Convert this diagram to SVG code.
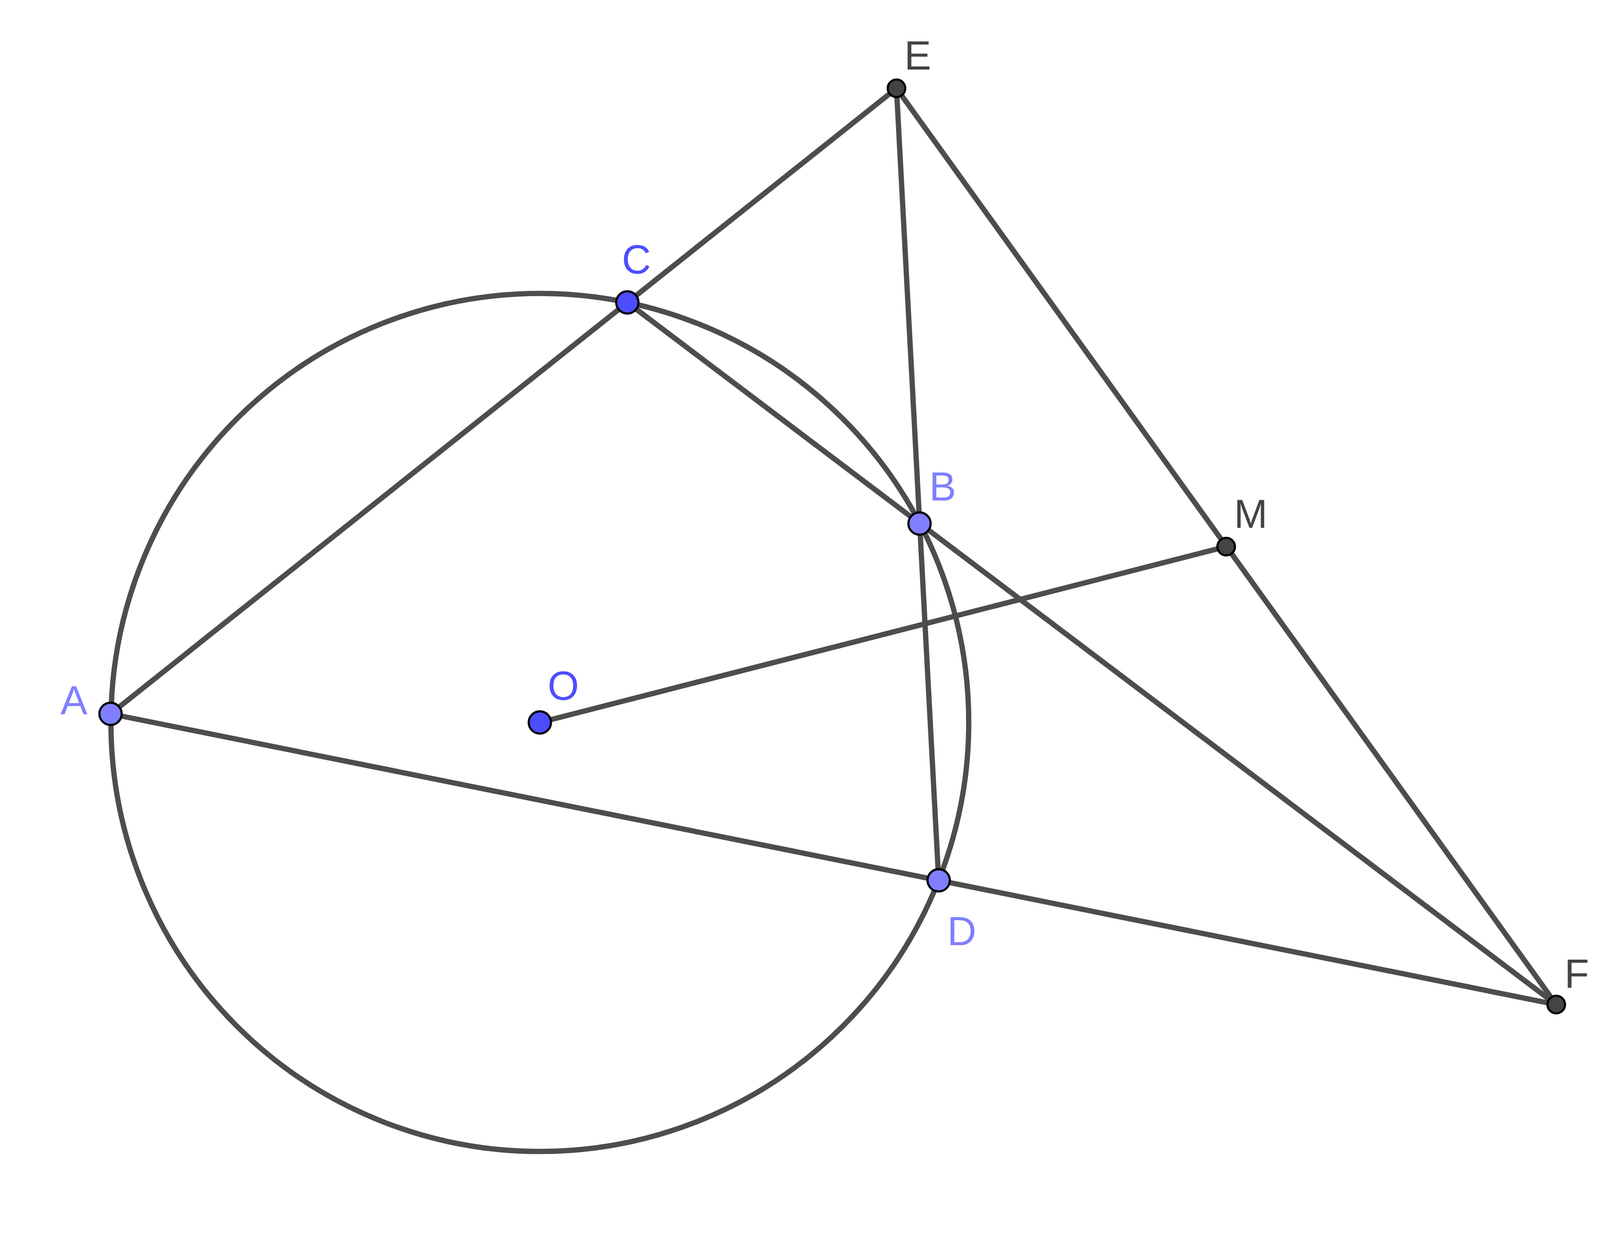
<svg xmlns="http://www.w3.org/2000/svg" width="4217" height="3171" viewBox="0 0 4217 3171">
<style>
.ln{stroke:#4d4d4d;stroke-width:13.5;fill:none;stroke-linecap:round}
.pt{stroke:#000;stroke-width:5.5}
.big{}
.lb{font-family:"Liberation Sans",Arial,sans-serif;font-size:103px}
.dk{fill:#444444}
.bl{fill:#4d4dff}
.lt{fill:#7f7fff}
</style>
<rect width="4217" height="3171" fill="#fff"/>
<g id="connectors">
<circle class="ln" cx="1382" cy="1849" r="1098"/>
<line class="ln" x1="283" y1="1827" x2="2295" y2="226"/>
<line class="ln" x1="2295" y1="226" x2="2403" y2="2253"/>
<line class="ln" x1="2295" y1="226" x2="3984" y2="2571"/>
<line class="ln" x1="1606" y1="774" x2="3984" y2="2571"/>
<line class="ln" x1="283" y1="1827" x2="3984" y2="2571"/>
<line class="ln" x1="1382" y1="1849" x2="3139" y2="1399"/>
</g>
<g id="node-E"><circle class="pt" cx="2295" cy="226" r="22.5" fill="#444444"/><text class="lb dk" x="2315" y="178">E</text></g>
<g id="node-C"><circle class="pt" cx="1606" cy="774" r="28.5" fill="#4d4dff"/><text class="lb bl" x="1592" y="700">C</text></g>
<g id="node-B"><circle class="pt" cx="2354" cy="1340" r="28.5" fill="#7f7fff"/><text class="lb lt" x="2379" y="1281">B</text></g>
<g id="node-M"><circle class="pt" cx="3139" cy="1399" r="22.5" fill="#444444"/><text class="lb dk" x="3159" y="1351">M</text></g>
<g id="node-A"><circle class="pt" cx="283" cy="1827" r="28.5" fill="#7f7fff"/><text class="lb lt" x="155" y="1828">A</text></g>
<g id="node-O"><circle class="pt" cx="1382" cy="1849" r="28.5" fill="#4d4dff"/><text class="lb bl" x="1402" y="1791">O</text></g>
<g id="node-D"><circle class="pt" cx="2403" cy="2253" r="28.5" fill="#7f7fff"/><text class="lb lt" x="2425" y="2419">D</text></g>
<g id="node-F"><circle class="pt" cx="3984" cy="2571" r="22.5" fill="#444444"/><text class="lb dk" x="4005" y="2528">F</text></g>
</svg>
